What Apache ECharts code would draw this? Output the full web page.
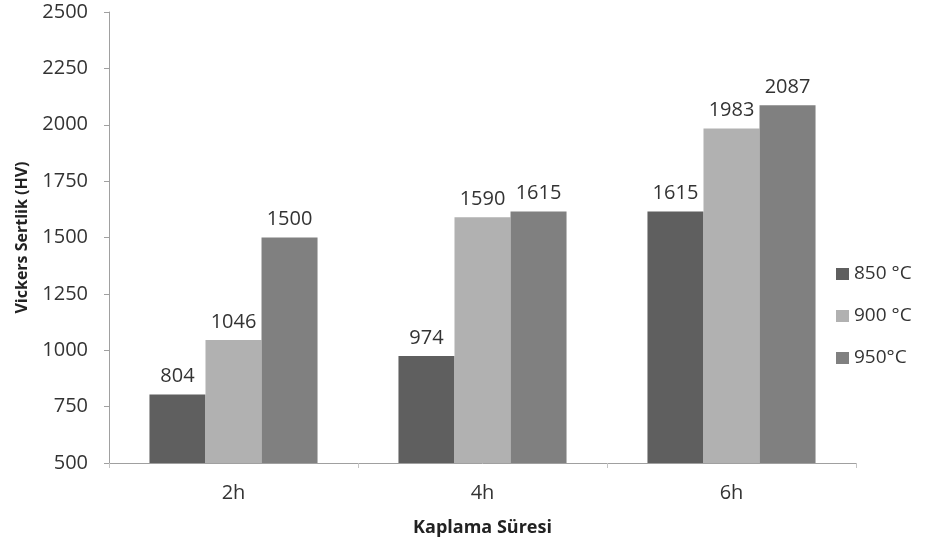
<!DOCTYPE html>
<html>
<head>
<meta charset="utf-8">
<script src="https://cdn.jsdelivr.net/npm/echarts@6/dist/echarts.min.js"></script>
<style>
  html, body { margin: 0; padding: 0; background: #ffffff; }
  #chart { width: 926px; height: 554px; }
</style>
</head>
<body>
<div id="chart"></div>
<script>
// Coating duration categories
const categories = ['2h', '4h', '6h'];
// Hardness per coating temperature
const seriesNames = ['850 °C', '900 °C', '950°C'];
const hv850 = [804, 974, 1615];
const hv900 = [1046, 1590, 1983];
const hv950 = [1500, 1615, 2087];
// Y axis ticks
const yTicks = [500, 750, 1000, 1250, 1500, 1750, 2000, 2250, 2500];

const colors = ['#5f5f5f', '#b1b1b1', '#808080'];
const font = '"Open Sans", "Liberation Sans", sans-serif';

const chart = echarts.init(document.getElementById('chart'));

function makeSeries(name, data, color) {
  return {
    name: name,
    type: 'bar',
    data: data,
    barGap: '0%',
    barCategoryGap: '32.5%',
    itemStyle: { color: color },
    label: {
      show: true,
      position: 'top',
      distance: 8,
      color: '#333333',
      fontFamily: font,
      fontSize: 20
    }
  };
}

chart.setOption({
  backgroundColor: '#ffffff',
  animation: false,
  grid: { left: 109, right: 70, top: 12, bottom: 91, containLabel: false },
  legend: {
    orient: 'vertical',
    left: 831,
    top: 259,
    itemWidth: 13,
    itemHeight: 12,
    itemGap: 22,
    icon: 'rect',
    textStyle: { color: '#333333', fontFamily: font, fontSize: 19, lineHeight: 20, padding: [0, 0, 0, 0] },
    data: seriesNames
  },
  xAxis: {
    type: 'category',
    data: categories,
    name: 'Kaplama Süresi',
    nameLocation: 'middle',
    nameGap: 56,
    nameTextStyle: { color: '#222222', fontFamily: font, fontSize: 18, fontWeight: 'bold' },
    axisLine: { lineStyle: { color: '#a0a0a0', width: 1 } },
    axisTick: { show: true, alignWithLabel: false, length: 5, lineStyle: { color: '#c4c4c4' } },
    axisLabel: { color: '#333333', fontFamily: font, fontSize: 20, margin: 20 }
  },
  yAxis: {
    type: 'value',
    min: yTicks[0],
    max: yTicks[yTicks.length - 1],
    interval: yTicks[1] - yTicks[0],
    name: 'Vickers Sertlik (HV)',
    nameLocation: 'middle',
    nameGap: 79,
    nameRotate: 90,
    nameTextStyle: { color: '#222222', fontFamily: font, fontSize: 16, fontWeight: 'bold' },
    axisLine: { show: true, lineStyle: { color: '#a0a0a0', width: 1 } },
    axisTick: { show: true, length: 5, lineStyle: { color: '#a0a0a0' } },
    axisLabel: {
      color: '#333333', fontFamily: font, fontSize: 20, margin: 21,
      formatter: function (v) { return String(v); }
    },
    splitLine: { show: false }
  },
  series: [
    makeSeries(seriesNames[0], hv850, colors[0]),
    makeSeries(seriesNames[1], hv900, colors[1]),
    makeSeries(seriesNames[2], hv950, colors[2])
  ]
});
</script>
</body>
</html>
